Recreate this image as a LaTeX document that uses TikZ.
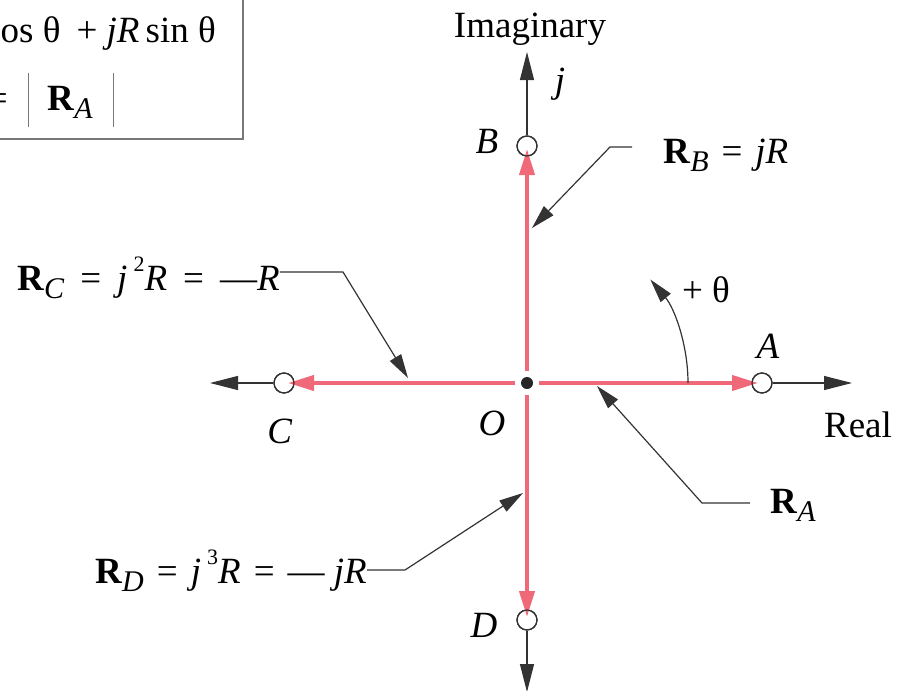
\documentclass[tikz,border=0pt]{standalone}
\usepackage{fontspec}
\setmainfont{Liberation Serif}
\usetikzlibrary{arrows.meta}
\definecolor{vecred}{RGB}{240,105,120}
\definecolor{boxgray}{RGB}{120,120,120}
\newcommand\bR{\textbf{R}}
\newcommand\sbs[1]{\raisebox{-0.22em}{\fontsize{30}{30}\selectfont\itshape #1}}
\newcommand\sps[1]{\raisebox{0.5em}{\fontsize{22}{22}\selectfont #1}}
\newcommand\eqsp[1]{\hspace{#1}=\hspace{#1}}
\tikzset{
  lbl/.style={font=\fontsize{37}{40}\selectfont, inner sep=0pt, anchor=base},
  axisline/.style={line width=1.2pt, black!80, -{Triangle[length=28pt,width=14pt]}},
  leader/.style={line width=1.2pt, black!80, -{Triangle[length=24pt,width=13pt]}},
  vec/.style={line width=4pt, vecred, -{Triangle[length=26pt,width=15pt]}},
  pt/.style={circle, draw=black!80, line width=1.2pt, minimum size=20pt, inner sep=0pt},
}
\begin{document}
\begin{tikzpicture}[x=1pt,y=-1pt]
\useasboundingbox (0,0) rectangle (908,691);
% top-left box (partial)
\draw[boxgray, line width=1.6pt] (243,-5) -- (243,139) -- (-5,139);
\node[lbl, anchor=base west] (f1) at (0.5,42) {os θ\hspace{16pt}+ \textit{jR}\,sin θ};
\node[lbl, anchor=base east] (f2) at (8,110) {=};
\draw[boxgray, line width=1pt] (28,73) -- (28,127);
\draw[boxgray, line width=1pt] (113,73) -- (113,127);
\node[lbl] (fRA) at (70,110) {\bR\sbs{A}};

% points
\coordinate (O) at (527,383);
\node[pt] (A) at (762,383) {};
\node[pt] (B) at (527,146) {};
\node[pt] (C) at (284,383) {};
\node[pt] (D) at (527,620) {};
\coordinate (Xr) at (852,383);
\coordinate (Xl) at (210,383);
\coordinate (Yt) at (527,52);
\coordinate (Yb) at (527,692);
% axes
\draw[axisline] (A.east) -- (Xr);
\draw[axisline] (C.west) -- (Xl);
\draw[axisline] (B.north) -- (Yt);
\draw[axisline] (D.south) -- (Yb);
% red vectors
\draw[vec] (539,383) -- (758,383);
\draw[vec] (515,383) -- (288,383);
\draw[vec] (527,371) -- (527,149);
\draw[vec] (527,395) -- (527,617);
\node[pt] at (A) {};
\node[pt] at (B) {};
\node[pt] at (C) {};
\node[pt] at (D) {};
\fill[black!85] (O) circle[radius=6pt];

% theta arc
\coordinate (T0) at (688,383);
\draw[line width=1.2pt, black!80, -{Triangle[length=24pt,width=13pt]}] (T0) arc[start angle=0, end angle=40, radius=161pt];

% labels
\node[lbl] (Im) at (530,37) {Imaginary};
\node[lbl] (jl) at (560,92) {\textit{j}};
\node[lbl] (Bl) at (487,153) {\textit{B}};
\node[lbl] (Al) at (768,358) {\textit{A}};
\node[lbl] (Cl) at (280,443) {\textit{C}};
\node[lbl] (Dl) at (484,637) {\textit{D}};
\node[lbl] (Ol) at (492,435) {\textit{O}};
\node[lbl] (Re) at (858,437) {Real};
\node[lbl] (th) at (706,302) {+ θ};

\node[lbl, anchor=base west] (RB) at (663,163) {\bR\sbs{B}\eqsp{13pt}\textit{jR}};
\node[lbl, anchor=base west] (RC) at (17,290) {\bR\sbs{C}\eqsp{16pt}\textit{j}\,\sps{2}\textit{R}\eqsp{16pt}—\textit{R}};
\node[lbl, anchor=base west] (RA) at (770,513) {\bR\sbs{A}};
\node[lbl, anchor=base west] (RD) at (95,583) {\bR\sbs{D}\eqsp{13pt}\textit{j}\,\sps{3}\textit{R}\eqsp{13pt}— \textit{jR}};

% leaders
\coordinate (kB) at (610,147);
\coordinate (tB) at (532,228);
\draw[leader] (632,147) -- (kB) -- (tB);
\coordinate (kC) at (343,272);
\coordinate (tC) at (408,378);
\draw[leader] (RC.east |- kC) -- (kC) -- (tC);
\coordinate (kA) at (702,503);
\coordinate (tA) at (597,386);
\draw[leader] (750,503) -- (kA) -- (tA);
\coordinate (kD) at (405,570);
\coordinate (tD) at (523,493);
\draw[leader] (RD.east |- kD) -- (kD) -- (tD);
\end{tikzpicture}
\end{document}
